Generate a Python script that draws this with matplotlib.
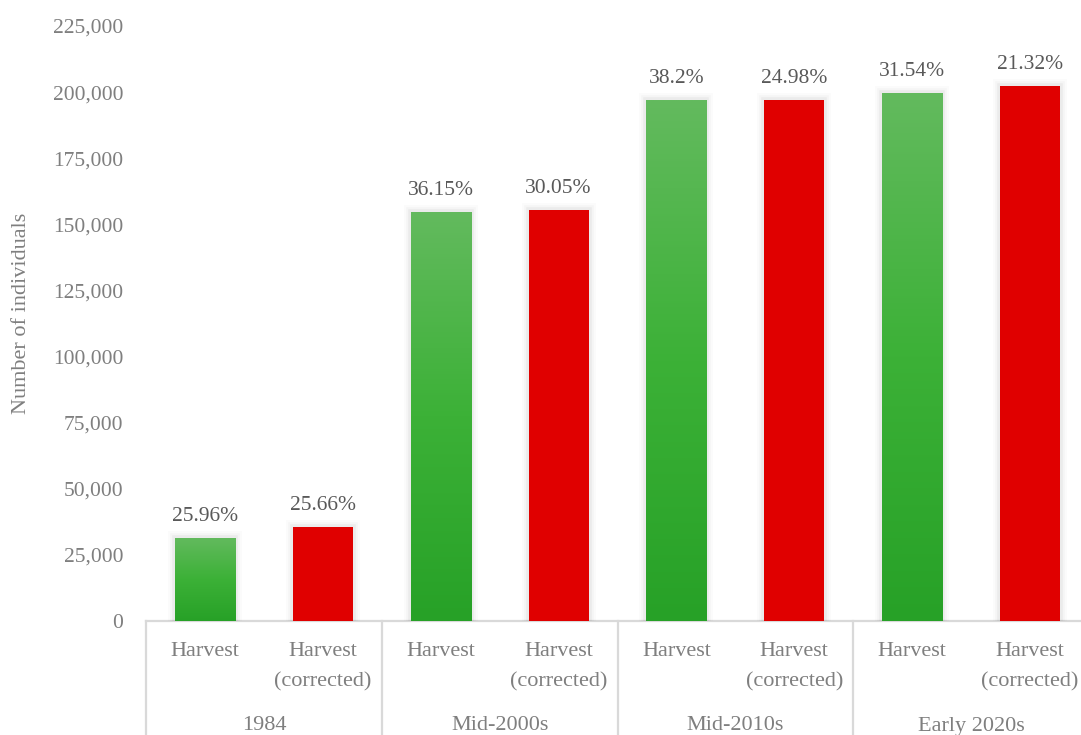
import numpy as np
import matplotlib.pyplot as plt
import matplotlib.patheffects as pe
from matplotlib import transforms
from matplotlib.colors import LinearSegmentedColormap

# Harvest estimates per period, with and without correction
periods = ["1984", "Mid-2000s", "Mid-2010s", "Early 2020s"]
series_names = ["Harvest", "Harvest\n(corrected)"]
harvest = [31400, 154700, 197000, 199700]
harvest_corrected = [35500, 155400, 197000, 202300]
harvest_pct = ["25.96%", "36.15%", "38.2%", "31.54%"]
corrected_pct = ["25.66%", "30.05%", "24.98%", "21.32%"]
yticks = list(range(0, 225001, 25000))

FONT = "Liberation Serif"
FS = 15.5
FS_CAT = 16
GREY_TEXT = "#7f7f7f"
LABEL_TEXT = "#595959"
LINE = "#d9d9d9"

fig = plt.figure(figsize=(10.81, 7.35), dpi=100)
ax = fig.add_axes([146 / 1081, 114 / 735, 943 / 1081, 595 / 735])

width = 0.51
green_cmap = LinearSegmentedColormap.from_list("grn", ["#27a127", "#3cb137", "#63ba5e"])
# soft shadow around each bar
glow = [pe.Stroke(linewidth=10, foreground="#000000", alpha=0.015),
        pe.Stroke(linewidth=7, foreground="#000000", alpha=0.025),
        pe.Stroke(linewidth=4, foreground="#000000", alpha=0.04),
        pe.Normal()]

for i, period in enumerate(periods):
    xg = 2 * i
    xr = 2 * i + 1
    gbar = ax.bar(xg, harvest[i], width=width, color="#3cb137", linewidth=0,
                  zorder=2)[0]
    gbar.set_path_effects(glow)
    grad = np.linspace(0, 1, 256).reshape(-1, 1)
    im = ax.imshow(grad, cmap=green_cmap, origin="lower", aspect="auto",
                   extent=[xg - width / 2, xg + width / 2, 0, harvest[i]],
                   zorder=3)
    im.set_clip_path(gbar)

    rbar = ax.bar(xr, harvest_corrected[i], width=width, color="#e00000",
                  linewidth=0, zorder=2)[0]
    rbar.set_path_effects(glow)

    ax.annotate(harvest_pct[i], (xg, harvest[i]), xytext=(0, 12.5),
                textcoords="offset points", ha="center", va="baseline",
                fontsize=FS, color=LABEL_TEXT, family=FONT)
    ax.annotate(corrected_pct[i], (xr, harvest_corrected[i]), xytext=(0, 12.5),
                textcoords="offset points", ha="center", va="baseline",
                fontsize=FS, color=LABEL_TEXT, family=FONT)

ax.set_xlim(-0.5, 2 * len(periods) - 0.5)
ax.set_ylim(0, 225000)
ax.set_yticks(yticks)
ax.set_yticklabels([f"{v:,}" for v in yticks], family=FONT, fontsize=FS,
                   color=GREY_TEXT)
ax.tick_params(axis="y", length=0, pad=16.5)
ax.set_xticks([])
for s in ax.spines.values():
    s.set_visible(False)

# two-level category axis
xa = ax.get_xaxis_transform()
ax.plot([-0.5, 2 * len(periods) - 0.5], [0, 0], transform=xa, color=LINE,
        lw=1.6, clip_on=False, zorder=1)
for k in range(len(periods) + 1):
    ax.plot([2 * k - 0.5, 2 * k - 0.5], [0, -0.25], transform=xa, color=LINE,
            lw=1.6, clip_on=False, zorder=1)

for i, period in enumerate(periods):
    for j, name in enumerate(series_names):
        for n, line in enumerate(name.split("\n")):
            tr = transforms.offset_copy(xa, fig=fig, y=-31 - 30 * n, units="dots")
            ax.text(2 * i + j, 0, line, transform=tr, ha="center", va="center",
                    fontsize=FS_CAT, color=GREY_TEXT, family=FONT)
    tr = transforms.offset_copy(xa, fig=fig, y=-105, units="dots")
    ax.text(2 * i + 0.5, 0, period, transform=tr, ha="center", va="center",
            fontsize=FS_CAT, color=GREY_TEXT, family=FONT)

fig.text(22 / 1081, 1 - 313 / 735, "Number of individuals", rotation=90,
         ha="center", va="center", fontsize=FS_CAT, color=GREY_TEXT, family=FONT)

fig.savefig("out.png", dpi=100)
